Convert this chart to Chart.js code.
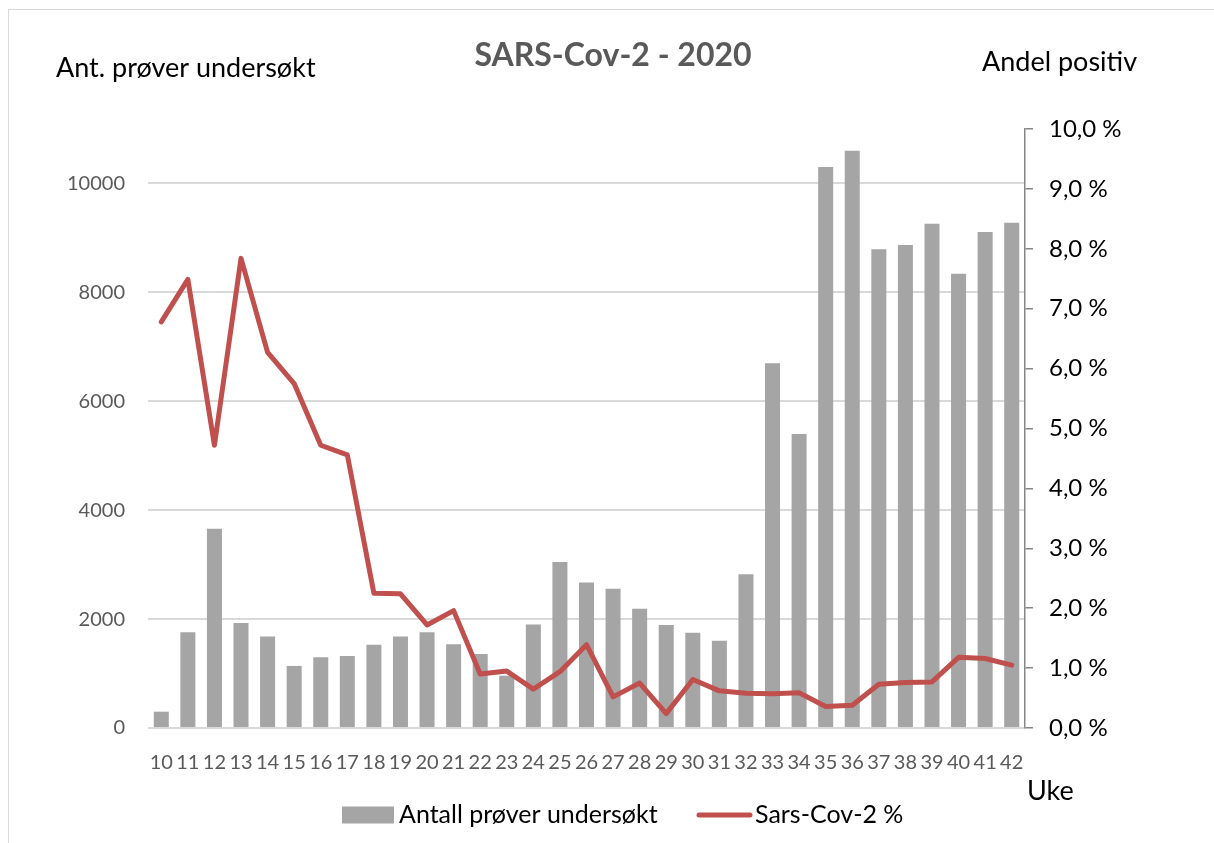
<!DOCTYPE html>
<html>
<head>
<meta charset="utf-8">
<script src="https://cdn.jsdelivr.net/npm/chart.js@4/dist/chart.umd.min.js"></script>
<style>
html,body{margin:0;padding:0;background:#fff;}
#wrap{position:relative;width:1214px;height:843px;}
#frame{position:absolute;left:8px;top:9px;width:1220px;height:850px;border:1px solid #d9d9d9;box-sizing:border-box;}
</style>
</head>
<body>
<div id="wrap">
<div id="frame"></div>
<canvas id="c" width="1214" height="843"></canvas>
</div>
<script>
const weeks = ['10','11','12','13','14','15','16','17','18','19','20','21','22','23','24','25','26','27','28','29','30','31','32','33','34','35','36','37','38','39','40','41','42'];
const samples = [300,1760,3660,1930,1680,1140,1300,1320,1530,1680,1760,1540,1360,960,1900,3050,2670,2555,2190,1890,1750,1600,2825,6700,5400,10300,10600,8790,8870,9260,8340,9110,9280];
const positivePct = [6.78,7.49,4.72,7.84,6.27,5.75,4.72,4.56,2.25,2.24,1.72,1.96,0.90,0.95,0.65,0.94,1.39,0.52,0.75,0.24,0.81,0.62,0.58,0.57,0.59,0.36,0.38,0.73,0.76,0.77,1.18,1.16,1.05];
const leftTicks = [0,2000,4000,6000,8000,10000];

const FONT = 'Lato, "Open Sans", sans-serif';

const textPlugin = {
  id: 'texts',
  afterDraw(chart) {
    const ctx = chart.ctx;
    const ds = chart.data.datasets;
    ctx.save();
    ctx.textBaseline = 'alphabetic';
    ctx.fillStyle = '#595959';
    ctx.font = 'bold 32px ' + FONT;
    ctx.textAlign = 'center';
    ctx.fillText('SARS-Cov-2 - 2020', 613, 66);
    ctx.fillStyle = '#000';
    ctx.font = '27px ' + FONT;
    ctx.textAlign = 'left';
    ctx.fillText('Ant. prøver undersøkt', 56, 77);
    ctx.fillText('Andel positiv', 982, 71);
    ctx.fillText('Uke', 1027, 800);

    // legend
    const ly = 815;
    ctx.font = '25px ' + FONT;
    ctx.textBaseline = 'middle';
    ctx.fillStyle = ds[0].backgroundColor;
    ctx.fillRect(342, ly - 8.5, 52, 17);
    ctx.fillStyle = '#000';
    ctx.fillText(ds[0].label, 399, ly);
    ctx.strokeStyle = ds[1].borderColor;
    ctx.lineWidth = 5;
    ctx.lineCap = 'round';
    ctx.beginPath();
    ctx.moveTo(699, ly);
    ctx.lineTo(750, ly);
    ctx.stroke();
    ctx.fillText(ds[1].label, 755, ly);
    ctx.restore();
  }
};

new Chart(document.getElementById('c'), {
  data: {
    labels: weeks,
    datasets: [
      {
        type: 'bar',
        label: 'Antall prøver undersøkt',
        data: samples,
        backgroundColor: '#A5A5A5',
        borderWidth: 0,
        categoryPercentage: 1,
        barPercentage: 0.565,
        yAxisID: 'y',
        order: 2
      },
      {
        type: 'line',
        label: 'Sars-Cov-2 %',
        data: positivePct,
        borderColor: '#C0504D',
        backgroundColor: '#C0504D',
        borderWidth: 5,
        pointRadius: 0,
        tension: 0,
        borderJoinStyle: 'round',
        borderCapStyle: 'round',
        yAxisID: 'y1',
        order: 1
      }
    ]
  },
  plugins: [textPlugin],
  options: {
    responsive: false,
    animation: false,
    devicePixelRatio: 1,
    layout: { padding: { left: 8, right: 0, top: 129, bottom: 55 } },
    plugins: {
      title: { display: false },
      tooltip: { enabled: false },
      legend: { display: false }
    },
    scales: {
      x: {
        grid: { display: false, drawTicks: false },
        border: { display: false },
        ticks: { color: '#595959', font: { family: FONT, size: 20 }, padding: 23, maxRotation: 0, autoSkip: false },
        afterFit(s) { s.height = 60; }
      },
      y: {
        position: 'left',
        min: 0,
        max: 11000,
        afterBuildTicks(s) { s.ticks = leftTicks.map(v => ({ value: v })); },
        grid: { color: '#D9D9D9', lineWidth: 2, drawTicks: false },
        border: { display: false },
        ticks: { color: '#595959', font: { family: FONT, size: 20 }, padding: 23, callback: v => String(v) },
        afterFit(s) { s.width = 140; }
      },
      y1: {
        position: 'right',
        min: 0,
        max: 10,
        ticks: {
          stepSize: 1,
          color: '#000',
          font: { family: FONT, size: 24 },
          padding: 16,
          callback: v => v.toFixed(1).replace('.', ',') + ' %'
        },
        grid: { drawOnChartArea: false, drawTicks: true, tickLength: 8, color: '#868686', lineWidth: 1.5 },
        border: { display: true, color: '#868686', width: 1.5 },
        afterFit(s) { s.width = 189; }
      }
    }
  }
});
</script>
</body>
</html>
